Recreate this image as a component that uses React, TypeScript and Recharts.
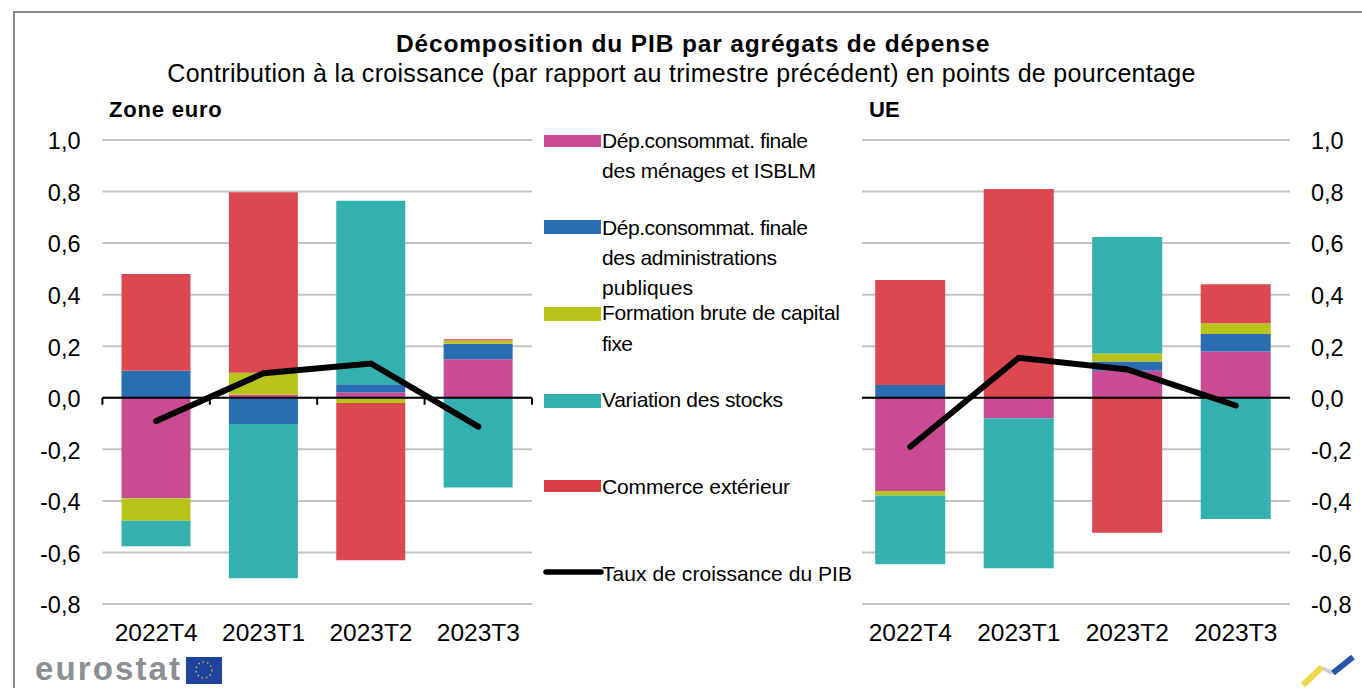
import React from "react";
import { ComposedChart, Bar, Line, XAxis, YAxis, CartesianGrid, ReferenceLine } from "recharts";

const categories = ["2022T4", "2023T1", "2023T2", "2023T3"];
const yTicks = [-0.8, -0.6, -0.4, -0.2, 0, 0.2, 0.4, 0.6, 0.8, 1];

const euroMenages = [-0.39, 0.012, 0.02, 0.149];
const euroAdmin = [0.105, -0.102, 0.032, 0.061];
const euroFbcf = [-0.087, 0.085, -0.02, 0.012];
const euroStocks = [-0.099, -0.598, 0.712, -0.348];
const euroCommerce = [0.375, 0.7, -0.61, 0.005];
const euroPib = [-0.09, 0.095, 0.133, -0.112];

const ueMenages = [-0.362, -0.079, 0.105, 0.18];
const ueAdmin = [0.05, 0, 0.036, 0.067];
const ueFbcf = [-0.017, 0, 0.031, 0.042];
const ueStocks = [-0.267, -0.582, 0.452, -0.47];
const ueCommerce = [0.407, 0.81, -0.524, 0.151];
const uePib = [-0.19, 0.155, 0.11, -0.03];

const COLORS = { menages: "#C84B94", admin: "#2A6DB3", fbcf: "#B8C41C", stocks: "#33B0AF", commerce: "#D93E47" };
const FONT = "'Liberation Sans', Arial, sans-serif";

const build = (m: number[], a: number[], f: number[], s: number[], c: number[], p: number[]) =>
  categories.map((name, i) => ({ name, menages: m[i], admin: a[i], fbcf: f[i], stocks: s[i], commerce: c[i], pib: p[i] }));

const euroData = build(euroMenages, euroAdmin, euroFbcf, euroStocks, euroCommerce, euroPib);
const ueData = build(ueMenages, ueAdmin, ueFbcf, ueStocks, ueCommerce, uePib);

const legendItems = [
  { color: COLORS.menages, y: 135, h: 12, lines: ["Dép.consommat. finale", "des ménages et ISBLM"], ys: [148, 178], ws: [206, 214] },
  { color: COLORS.admin, y: 220, h: 14, lines: ["Dép.consommat. finale", "des administrations", "publiques"], ys: [235, 265, 295], ws: [206, 175, 91] },
  { color: COLORS.fbcf, y: 307, h: 14, lines: ["Formation brute de capital", "fixe"], ys: [320, 351], ws: [238, 31] },
  { color: COLORS.stocks, y: 394, h: 14, lines: ["Variation des stocks"], ys: [407], ws: [181] },
  { color: COLORS.commerce, y: 480, h: 12, lines: ["Commerce extérieur"], ys: [494], ws: [188] },
];

const ZeroAxis = (props: any) => {
  const { x1, x2, y1, band } = props;
  let d = `M${x1},${y1}H${x2}`;
  for (let i = 0; i <= categories.length; i++) {
    const x = x2 - band * i;
    if (x >= x1 - 1) d += `M${x},${y1}v7`;
  }
  return <path d={d} stroke="#000" strokeWidth={2} fill="none" />;
};

const fmt = (v: number) => v.toFixed(1).replace(".", ",");

function Panel({ data, side, left, width }: { data: any[]; side: "left" | "right"; left: number; width: number }) {
  const yW = 60;
  const margin =
    side === "left"
      ? { top: 140, bottom: 34, left: 102.5 - yW, right: width - 532 }
      : { top: 140, bottom: 34, left: 862 - left, right: left + width - 1290 - yW };
  const band = side === "left" ? 107.4 : 108.5;
  return (
    <div style={{ position: "absolute", left, top: 0 }}>
      <ComposedChart width={width} height={688} data={data} margin={margin} stackOffset="sign" barCategoryGap="17.7%">
        <CartesianGrid vertical={false} stroke="#C4C4C4" strokeWidth={2} />
        <XAxis
          dataKey="name"
          height={50}
          axisLine={false}
          tickLine={false}
          tickMargin={14}
          interval={0}
          padding={side === "right" ? { left: -6, right: 0 } : undefined}
          tick={{ fontFamily: FONT, fontSize: 24.5, fill: "#000" }}
        />
        <YAxis
          orientation={side}
          width={yW}
          domain={[-0.8, 1]}
          ticks={yTicks}
          interval={0}
          tickFormatter={fmt}
          axisLine={false}
          tickLine={false}
          tickSize={0}
          tickMargin={side === "left" ? 22 : 21}
          tick={{ fontFamily: FONT, fontSize: 23.5, fill: "#000", dy: 1 }}
        />
        <Bar dataKey="menages" stackId="s" fill={COLORS.menages} isAnimationActive={false} />
        <Bar dataKey="admin" stackId="s" fill={COLORS.admin} isAnimationActive={false} />
        <Bar dataKey="fbcf" stackId="s" fill={COLORS.fbcf} isAnimationActive={false} />
        <Bar dataKey="stocks" stackId="s" fill={COLORS.stocks} isAnimationActive={false} />
        <Bar dataKey="commerce" stackId="s" fill={COLORS.commerce} fillOpacity={0.95} isAnimationActive={false} />
        <ReferenceLine y={0} shape={<ZeroAxis band={band} />} />
        <Line dataKey="pib" stroke="#000" strokeWidth={6} strokeLinecap="round" strokeLinejoin="miter" dot={false} activeDot={false} isAnimationActive={false} />
      </ComposedChart>
    </div>
  );
}

export default function App() {
  return (
    <div style={{ position: "absolute", left: 0, top: 0, width: 1362, height: 688, background: "#fff", overflow: "hidden" }}>
      <div style={{ position: "absolute", left: 13, top: 11, width: 1360, height: 700, border: "2px solid #8A8A8A" }} />
      <Panel data={euroData} side="left" left={0} width={560} />
      <Panel data={ueData} side="right" left={840} width={522} />
      <svg width={1362} height={688} style={{ position: "absolute", left: 0, top: 0, pointerEvents: "none" }} fontFamily={FONT}>
        <text x={693} y={52} textAnchor="middle" fontSize={24.5} fontWeight="bold" letterSpacing={0.85}>Décomposition du PIB par agrégats de dépense</text>
        <text x={681.5} y={82} textAnchor="middle" fontSize={25} letterSpacing={0.31}>Contribution à la croissance (par rapport au trimestre précédent) en points de pourcentage</text>
        <text x={109} y={117} fontSize={22} fontWeight="bold" letterSpacing={0.8}>Zone euro</text>
        <text x={869} y={117} fontSize={22} fontWeight="bold">UE</text>
        {legendItems.map((it) => (
          <g key={it.lines[0] + it.y}>
            <rect x={544} y={it.y} width={57} height={it.h} fill={it.color} />
            {it.lines.map((l, i) => (
              <text key={l} x={602} y={it.ys[i]} fontSize={21} textLength={it.ws[i]} lengthAdjust="spacing">{l}</text>
            ))}
          </g>
        ))}
        <line x1={546} y1={572} x2={601} y2={572} stroke="#000" strokeWidth={5.5} strokeLinecap="round" />
        <text x={602} y={581} fontSize={21} textLength={250} lengthAdjust="spacing">Taux de croissance du PIB</text>
        <text x={35} y={680} fontSize={33} fontWeight="bold" fill="#8B8F92" textLength={145}>eurostat</text>
        <rect x={186} y={657} width={36} height={27} fill="#1F429C" />
        <circle cx={204} cy={670} r={8} fill="none" stroke="#C9B94A" strokeWidth={1.5} strokeDasharray="1.5 3" />
        <path d="M1322,668 L1333,673" stroke="#C9CDD2" strokeWidth={4} fill="none" />
        <path d="M1303,685 L1322,667" stroke="#EBD94A" strokeWidth={6} fill="none" />
        <path d="M1333,673 L1353,657" stroke="#2A55A8" strokeWidth={6} fill="none" />
      </svg>
    </div>
  );
}
